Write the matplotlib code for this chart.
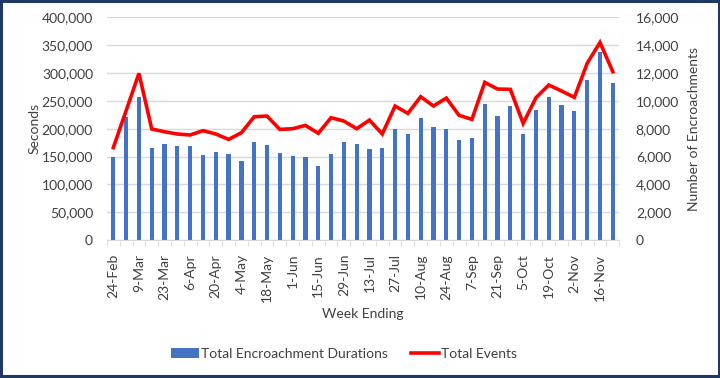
import matplotlib
matplotlib.use("Agg")
import matplotlib.pyplot as plt
from matplotlib.patches import Rectangle, Patch
from matplotlib.lines import Line2D
from matplotlib.ticker import FuncFormatter, MultipleLocator
import numpy as np

weeks = ["24-Feb", "2-Mar", "9-Mar", "16-Mar", "23-Mar", "30-Mar", "6-Apr", "13-Apr",
         "20-Apr", "27-Apr", "4-May", "11-May", "18-May", "25-May", "1-Jun", "8-Jun",
         "15-Jun", "22-Jun", "29-Jun", "6-Jul", "13-Jul", "20-Jul", "27-Jul", "3-Aug",
         "10-Aug", "17-Aug", "24-Aug", "31-Aug", "7-Sep", "14-Sep", "21-Sep", "28-Sep",
         "5-Oct", "12-Oct", "19-Oct", "26-Oct", "2-Nov", "9-Nov", "16-Nov", "23-Nov"]

durations = [149700, 220400, 256300, 165300, 171900, 169500, 169500, 152100,
             158100, 154500, 141300, 176600, 170700, 155700, 150300, 149700,
             132300, 154500, 175400, 171900, 163800, 165300, 198800, 190400,
             219800, 203600, 200000, 179600, 183800, 243700, 222200, 240100,
             190400, 232900, 256300, 241900, 231100, 288000, 337100, 281400]

events = [6640, 9300, 11980, 7980, 7780, 7620, 7550, 7860,
          7620, 7230, 7710, 8860, 8910, 7950, 8000, 8240,
          7670, 8790, 8550, 8000, 8620, 7620, 9630, 9100,
          10300, 9630, 10200, 8960, 8670, 11330, 10850, 10830,
          8380, 10230, 11140, 10710, 10250, 12700, 14200, 12100]

bar_color = "#4472C4"
line_color = "#FF0000"
text_color = "#404040"
grid_color = "#D9D9D9"

plt.rcParams['font.family'] = ['Lato', 'DejaVu Sans']

fig = plt.figure(figsize=(7.2, 3.78), dpi=100)
ax = fig.add_axes([0.1485, 0.365, 0.7115, 0.589])
ax2 = ax.twinx()

x = np.arange(len(weeks))
ax.bar(x, durations, width=0.33, color=bar_color, zorder=2)
ax2.plot(x, events, color=line_color, lw=2.6, solid_joinstyle='miter', zorder=3)

ax.set_xlim(-0.5, len(weeks) - 0.5)
ax.set_ylim(0, 400000)
ax2.set_ylim(0, 16000)
ax.yaxis.set_major_locator(MultipleLocator(50000))
ax2.yaxis.set_major_locator(MultipleLocator(2000))
fmt = FuncFormatter(lambda v, p: f"{int(v):,}")
ax.yaxis.set_major_formatter(fmt)
ax2.yaxis.set_major_formatter(fmt)

ax.set_axisbelow(True)
ax.grid(axis='y', color=grid_color, lw=1.0, zorder=0)

for a in (ax, ax2):
    for s in a.spines.values():
        s.set_visible(False)
ax.spines['bottom'].set_visible(True)
ax.spines['bottom'].set_color(grid_color)

ax.set_xticks(x[::2])
ax.set_xticklabels(weeks[::2], rotation=90, fontsize=10, color=text_color)
ax.set_xticks(np.arange(-0.5, len(weeks)), minor=True)
ax.tick_params(axis='x', which='major', length=0, pad=10)
ax.tick_params(axis='x', which='minor', length=4, color=grid_color)
ax.tick_params(axis='y', length=0, labelsize=10, labelcolor=text_color, pad=10)
ax2.tick_params(axis='y', length=0, labelsize=10, labelcolor=text_color, pad=12)

ax.set_ylabel("Seconds", fontsize=10, color=text_color, labelpad=1)
ax2.set_ylabel("Number of Encroachments", fontsize=10, color=text_color, labelpad=6)
ax.set_xlabel("Week Ending", fontsize=10, color=text_color, labelpad=4)

handles = [Patch(facecolor=bar_color, edgecolor='none'),
           Line2D([0], [0], color=line_color, lw=2.6)]
fig.legend(handles, ["Total Encroachment Durations", "Total Events"],
           loc='center', bbox_to_anchor=(0.478, 0.063), ncol=2, frameon=False,
           fontsize=10, labelcolor=text_color, handlelength=2.0, handletextpad=0.15,
           columnspacing=1.7)

fig.patches.append(Rectangle((0.002, 0.004), 0.996, 0.993, transform=fig.transFigure,
                             fill=False, edgecolor="#1F3864", lw=2.2))

fig.savefig("out.png", dpi=100)
